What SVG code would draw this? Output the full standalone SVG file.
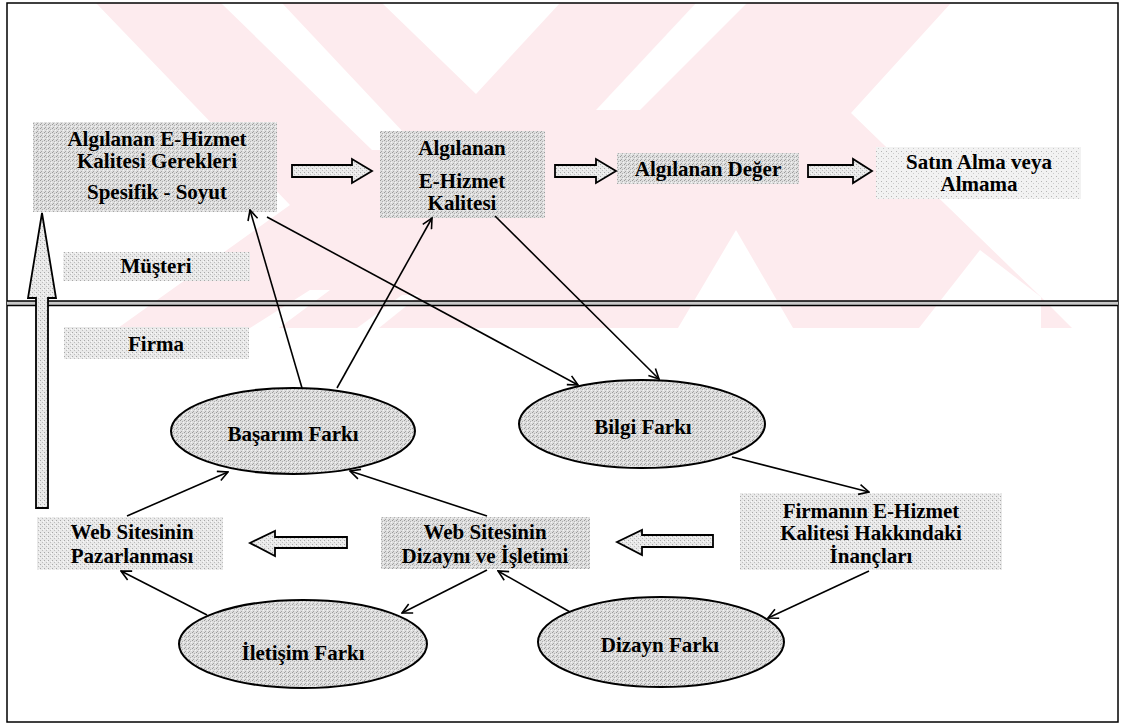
<svg xmlns="http://www.w3.org/2000/svg" width="1123" height="727" viewBox="0 0 1123 727">
<defs>
<pattern id="stipA" width="4" height="4" patternUnits="userSpaceOnUse">
<rect width="4" height="4" fill="#dedede"/>
<rect x="0" y="0" width="1" height="1" fill="#9a9a9a"/>
<rect x="2" y="1" width="1" height="1" fill="#b0b0b0"/>
<rect x="1" y="3" width="1" height="1" fill="#a5a5a5"/>
<rect x="3" y="2" width="1" height="1" fill="#f4f4f4"/>
</pattern>
<pattern id="stipB" width="4" height="4" patternUnits="userSpaceOnUse">
<rect width="4" height="4" fill="#e9e9e9"/>
<rect x="0" y="0" width="1" height="1" fill="#a8a8a8"/>
<rect x="2" y="2" width="1" height="1" fill="#bdbdbd"/>
<rect x="3" y="1" width="1" height="1" fill="#fafafa"/>
</pattern>
<pattern id="stipC" width="5" height="5" patternUnits="userSpaceOnUse">
<rect width="5" height="5" fill="#f2f2f2"/>
<rect x="1" y="1" width="1" height="1" fill="#b5b5b5"/>
<rect x="3" y="3" width="1" height="1" fill="#cccccc"/>
</pattern>
<marker id="ah" viewBox="0 0 12 12" refX="11" refY="6" markerWidth="12" markerHeight="12" markerUnits="userSpaceOnUse" orient="auto">
<path d="M1,1 L11,6 L1,11" fill="none" stroke="#000" stroke-width="1.6"/>
</marker>
</defs>
<style>
.t{font-family:"Liberation Serif","Times New Roman",serif;font-weight:bold;font-size:21px;fill:#000;text-anchor:middle}
.bx{fill:url(#stipA)}
.bl{fill:url(#stipB)}
.bc{fill:url(#stipC)}
.el{fill:url(#stipA);stroke:#000;stroke-width:2}
.ba{fill:url(#stipB);stroke:#000;stroke-width:1.8;stroke-linejoin:miter}
.cn{fill:none;stroke:#000;stroke-width:1.6;marker-end:url(#ah)}
.wm{fill:#fdebee}
.wh{fill:#fff}
</style>
<rect x="0" y="0" width="1123" height="727" fill="#fff"/>
<g id="watermark">
<polygon class="wm" points="96,3 951,3 851,113 1041,297 1072,328 118,328 290,205"/>
<polygon class="wh" points="382,3 560,3 476,94"/>
<polygon class="wh" points="221,3 282,3 420,150 372,150"/>
<polygon class="wh" points="696,3 747,3 640,110 596,110"/>
<polygon class="wh" points="678,328 736,230 793,328"/>
<polygon class="wh" points="250,328 279,328 330,290 310,290"/>
<polygon class="wh" points="357,328 379,328 420,295 402,295"/>
<polygon class="wh" points="919,328 1041,328 1041,297 980,250"/>
</g>
<rect x="7" y="3" width="1111" height="719" fill="none" stroke="#000" stroke-width="1.5"/>
<g id="divider" stroke="#000" stroke-width="1.5">
<rect x="7" y="301" width="1111" height="4" fill="#c8c8c8" stroke="none"/>
<line x1="7" y1="301" x2="1118" y2="301"/>
<line x1="7" y1="305.5" x2="1118" y2="305.5"/>
</g>
<g id="up-arrow">
<path class="ba" d="M42,213 L56,298 L48,298 L48,508 L36,508 L36,298 L28,298 Z"/>
</g>
<g id="n-gerekler">
<rect class="bx" x="33" y="122" width="244" height="90"/>
<text class="t" x="157" y="146">Algılanan E-Hizmet</text>
<text class="t" x="157" y="168">Kalitesi Gerekleri</text>
<text class="t" x="157" y="199">Spesifik - Soyut</text>
</g>
<g id="n-kalite">
<rect class="bx" x="380" y="131" width="165" height="87"/>
<text class="t" x="462" y="155">Algılanan</text>
<text class="t" x="462" y="188">E-Hizmet</text>
<text class="t" x="462" y="210">Kalitesi</text>
</g>
<g id="n-deger">
<rect class="bx" x="617" y="153" width="182" height="31"/>
<text class="t" x="708" y="176">Algılanan Değer</text>
</g>
<g id="n-satin">
<rect class="bc" x="876" y="147" width="205" height="52"/>
<text class="t" x="979" y="169">Satın Alma veya</text>
<text class="t" x="979" y="191">Almama</text>
</g>
<g id="n-musteri">
<rect class="bl" x="63" y="252" width="187" height="29"/>
<text class="t" x="156" y="273">Müşteri</text>
</g>
<g id="n-firma">
<rect class="bl" x="64" y="327" width="185" height="32"/>
<text class="t" x="156" y="351">Firma</text>
</g>
<g id="n-basarim">
<ellipse class="el" cx="293" cy="431" rx="122" ry="43"/>
<text class="t" x="293" y="441">Başarım Farkı</text>
</g>
<g id="n-bilgi">
<ellipse class="el" cx="642" cy="424" rx="123" ry="44"/>
<text class="t" x="643" y="434">Bilgi Farkı</text>
</g>
<g id="n-inanc">
<rect class="bl" x="740" y="493" width="262" height="77"/>
<text class="t" x="871" y="518">Firmanın E-Hizmet</text>
<text class="t" x="871" y="540">Kalitesi Hakkındaki</text>
<text class="t" x="871" y="563">İnançları</text>
</g>
<g id="n-dizayn-isletim">
<rect class="bx" x="381" y="517" width="209" height="52"/>
<text class="t" x="485" y="539">Web Sitesinin</text>
<text class="t" x="485" y="563">Dizaynı ve İşletimi</text>
</g>
<g id="n-pazar">
<rect class="bl" x="37" y="517" width="186" height="53"/>
<text class="t" x="132" y="539">Web Sitesinin</text>
<text class="t" x="132" y="563">Pazarlanması</text>
</g>
<g id="n-iletisim">
<ellipse class="el" cx="303" cy="644" rx="124" ry="44"/>
<text class="t" x="303" y="660">İletişim Farkı</text>
</g>
<g id="n-dizayn">
<ellipse class="el" cx="661" cy="642" rx="123" ry="45"/>
<text class="t" x="660" y="652">Dizayn Farkı</text>
</g>
<g id="block-arrows">
<path class="ba" d="M292,165 L352,165 L352,159 L372,171 L352,183 L352,177 L292,177 Z"/>
<path class="ba" d="M555,165 L596,165 L596,159 L616,171 L596,183 L596,177 L555,177 Z"/>
<path class="ba" d="M808,165 L853,165 L853,159 L872,171 L853,183 L853,177 L808,177 Z"/>
<path class="ba" d="M347,537 L275,537 L275,531 L250,543 L275,556 L275,548 L347,548 Z"/>
<path class="ba" d="M713,535 L642,535 L642,530 L617,542 L642,555 L642,547 L713,547 Z"/>
</g>
<g id="connectors">
<line class="cn" x1="302" y1="388" x2="250" y2="210"/>
<line class="cn" x1="337" y1="388" x2="432" y2="218"/>
<line class="cn" x1="267" y1="217" x2="578" y2="385"/>
<line class="cn" x1="495" y1="216" x2="659" y2="379"/>
<line class="cn" x1="732" y1="457" x2="869" y2="492"/>
<line class="cn" x1="869" y1="571" x2="768" y2="618"/>
<line class="cn" x1="570" y1="612" x2="498" y2="571"/>
<line class="cn" x1="487" y1="570" x2="402" y2="613"/>
<line class="cn" x1="487" y1="516" x2="350" y2="471"/>
<line class="cn" x1="127" y1="516" x2="228" y2="472"/>
<line class="cn" x1="207" y1="615" x2="121" y2="571"/>
</g>
</svg>
